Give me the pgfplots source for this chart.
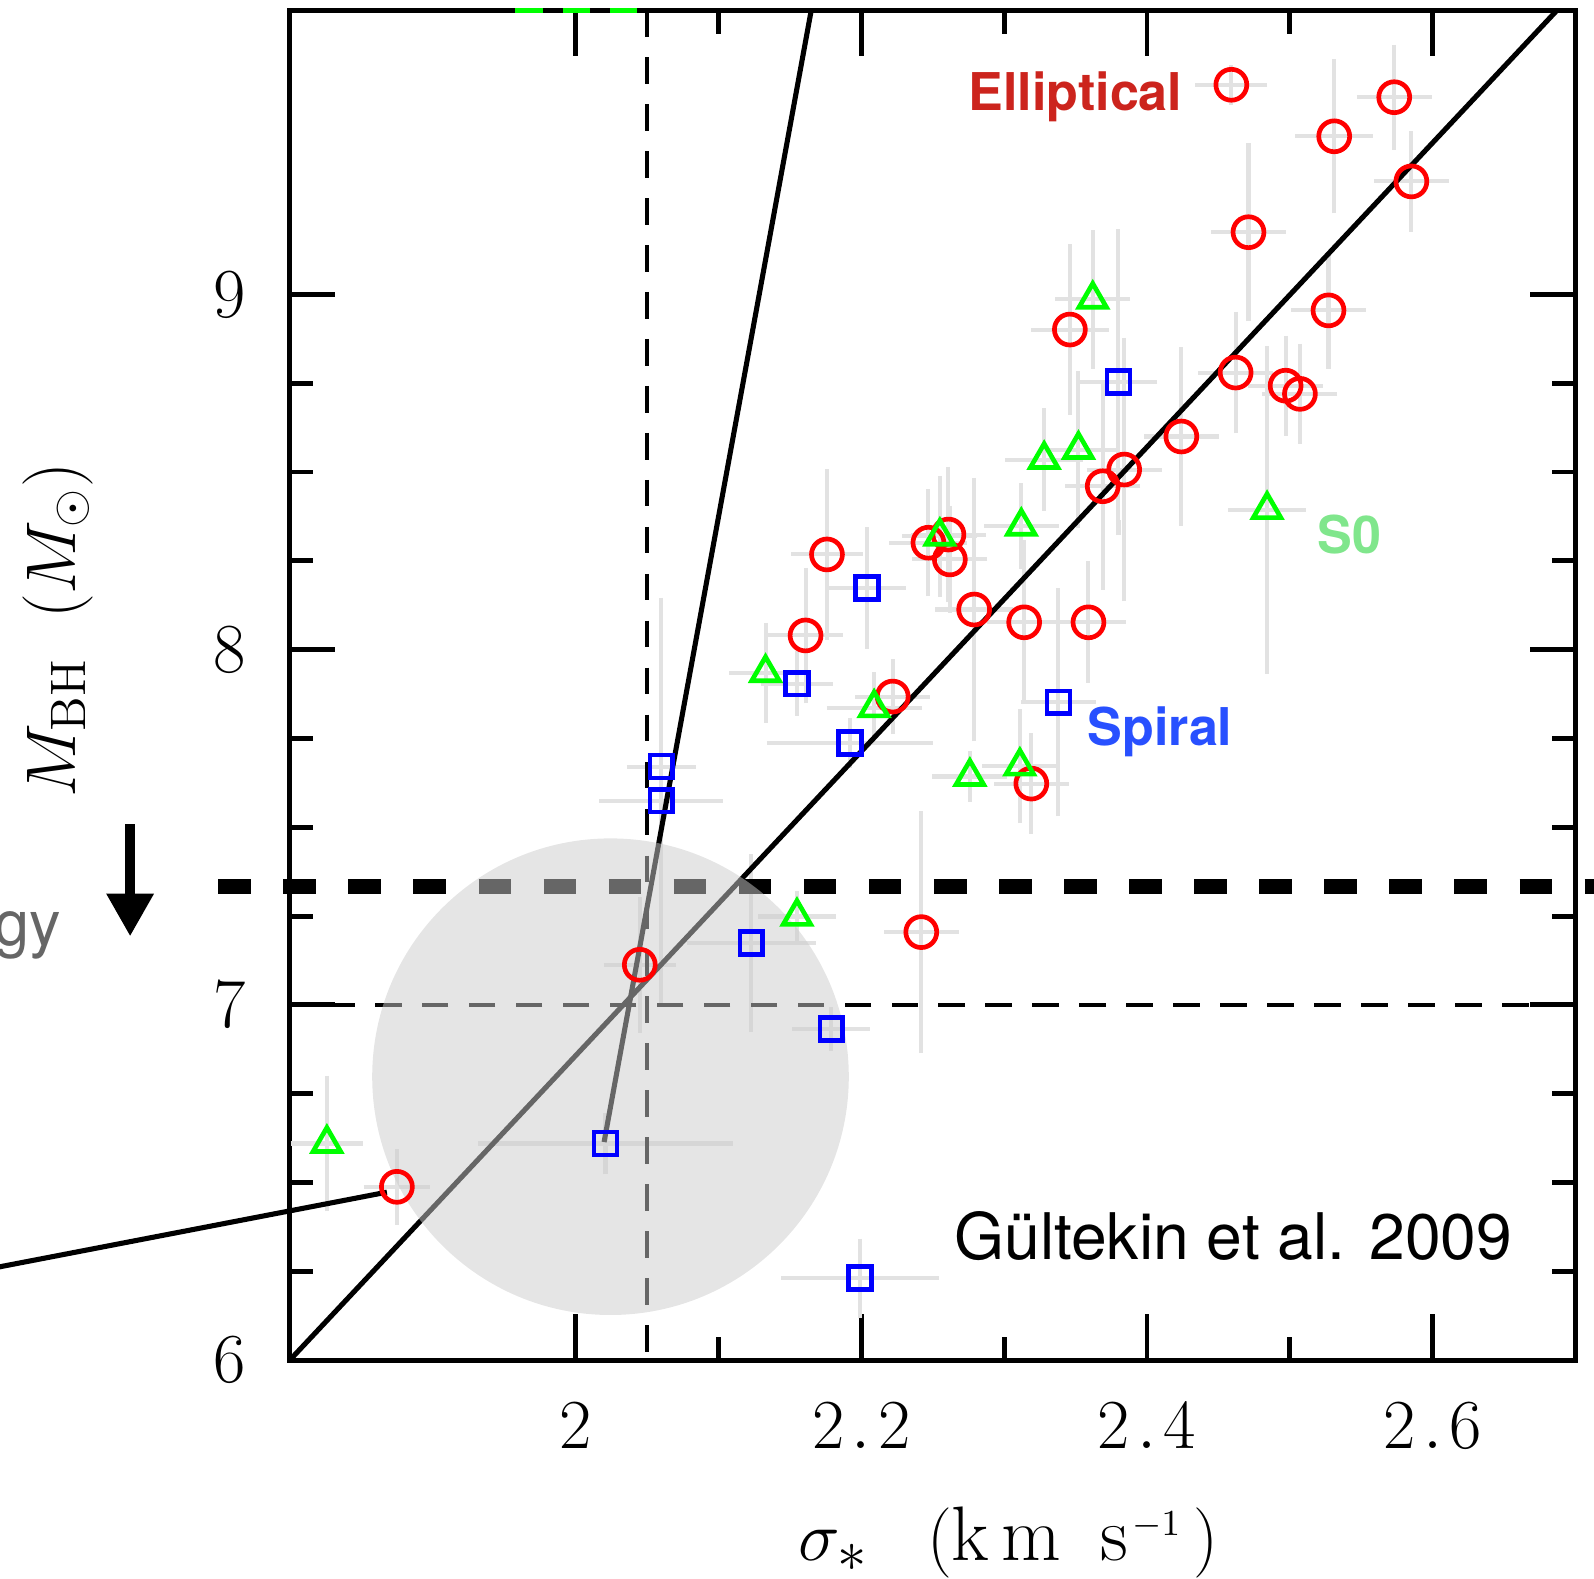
\documentclass[border=0pt]{standalone}
\usepackage{pgfplots}
\usepackage{pgfplotstable}
\pgfplotsset{compat=1.18}
\usepackage{fontspec}
\setsansfont{TeX Gyre Heros}
\usetikzlibrary{arrows.meta}

\definecolor{errc}{RGB}{226,226,226}
\definecolor{ellc}{RGB}{204,36,29}
\definecolor{s0c}{RGB}{128,230,140}
\definecolor{spic}{RGB}{40,80,255}

% x = log sigma, y = log M_BH, ex/ey = errors
\pgfplotstableread{
x y ex ey
2.459 9.590 0.020 0.035
2.573 9.555 0.021 0.127
2.531 9.445 0.022 0.196
2.585 9.318 0.021 0.120
2.471 9.175 0.021 0.230
2.527 8.955 0.021 0.144
2.346 8.901 0.022 0.220
2.462 8.780 0.021 0.150
2.497 8.743 0.021 0.120
2.507 8.720 0.021 0.120
2.424 8.600 0.021 0.230
2.384 8.507 0.021 0.350
2.369 8.460 0.021 0.270
2.176 8.268 0.020 0.220
2.247 8.301 0.022 0.130
2.261 8.324 0.021 0.170
2.262 8.254 0.021 0.130
2.279 8.113 0.022 0.350
2.314 8.077 0.021 0.210
2.359 8.077 0.021 0.150
2.161 8.040 0.021 0.170
2.222 7.868 0.021 0.085
2.319 7.623 0.021 0.120
2.242 7.205 0.021 0.320
2.045 7.113 0.020 0.170
1.875 6.488 0.018 0.085
}\ellip

\pgfplotstableread{
x y ex ey
2.362 8.986 0.021 0.174
2.328 8.535 0.022 0.123
2.352 8.563 0.021 0.200
2.312 8.347 0.021 0.100
2.255 8.319 0.021 0.150
2.484 8.394 0.022 0.440
2.133 7.935 0.020 0.120
2.209 7.836 0.028 0.080
2.276 7.643 0.021 0.050
2.311 7.672 0.021 0.140
2.155 7.249 0.022 0.050
1.826 6.610 0.020 0.170
}\sozero

\pgfplotstableread{
x y ex ey
2.380 8.753 0.022 0.410
2.204 8.174 0.022 0.150
2.155 7.904 0.020 0.070
2.192 7.737 0.053 0.050
2.338 7.852 0.021 0.300
2.060 7.671 0.019 0.060
2.060 7.575 0.038 0.550
2.123 7.174 0.040 0.230
2.179 6.932 0.022 0.040
2.021 6.610 0.084 0.066
2.199 6.231 0.050 0.090
}\spiral

\begin{document}
\begin{tikzpicture}
\begin{axis}[
  scale only axis,
  width=316.25pt, height=332pt,
  xmin=1.8, xmax=2.7, ymin=6, ymax=9.8,
  xtick={2,2.2,2.4,2.6},
  xticklabels={$2$, $2\kern1.8pt.\kern1.8pt2$, $2\kern1.8pt.\kern1.8pt4$, $2\kern1.8pt.\kern1.8pt6$},
  minor x tick num=1,
  ytick={6,7,8,9},
  minor y tick num=3,
  xtick pos=both, ytick pos=both,
  tick align=inside,
  major tick length=11.25pt,
  minor tick length=5.75pt,
  axis line style={line width=1.2pt},
  every tick/.style={black, line width=1.2pt},
  ticklabel style={font=\fontsize{17}{20}\selectfont},
  xticklabel style={yshift=-7pt},
  yticklabel style={xshift=-7.4pt},
  clip=false,
]
\coordinate (BL) at (rel axis cs:0,0);
\coordinate (TR) at (rel axis cs:1,1);

% error bars
\addplot[draw=none, mark=none, forget plot,
  error bars/.cd, x dir=both, y dir=both, x explicit, y explicit,
  error bar style={draw=errc, line width=1pt},
  error mark options={draw=errc, line width=1pt, mark size=1.85pt}]
  table[x=x, y=y, x error=ex, y error=ey] {\ellip};
\addplot[draw=none, mark=none, forget plot,
  error bars/.cd, x dir=both, y dir=both, x explicit, y explicit,
  error bar style={draw=errc, line width=1pt},
  error mark options={draw=errc, line width=1pt, mark size=1.85pt}]
  table[x=x, y=y, x error=ex, y error=ey] {\sozero};
\addplot[draw=none, mark=none, forget plot,
  error bars/.cd, x dir=both, y dir=both, x explicit, y explicit,
  error bar style={draw=errc, line width=1pt},
  error mark options={draw=errc, line width=1pt, mark size=1.85pt}]
  table[x=x, y=y, x error=ex, y error=ey] {\spiral};

% points
\addplot[red, only marks, mark=o, mark size=3.8pt, mark options={line width=1.15pt, fill=none}] table[x=x, y=y] {\ellip};
\addplot[green, only marks, mark=triangle, mark size=3.9pt, mark options={line width=1.15pt, fill=none}] table[x=x, y=y] {\sozero};
\addplot[blue, only marks, mark=square, mark size=2.8pt, mark options={line width=1.15pt, fill=none}] table[x=x, y=y] {\spiral};

% thin dashed reference lines
\draw[black, line width=1pt, dash pattern=on 6.55pt off 5pt] (axis cs:2.05,9.8) -- (axis cs:2.05,6);
\draw[black, line width=1pt, dash pattern=on 6.55pt off 5pt] (axis cs:2.7,7) -- (axis cs:1.8,7);

% fits
\addplot[black, line width=1.25pt] coordinates {(1.8,6.0) (2.687,9.8)};
\addplot[black, line width=1.25pt] coordinates {(2.020,6.614) (2.165,9.8)};

% thick dashed limit
\draw[black, line width=3.7pt, dash pattern=on 8pt off 8pt] (axis cs:1.750,7.333) -- (axis cs:2.72,7.333);

% top edge bits
\draw[green, line width=1.2pt] (axis cs:1.958,9.8) -- (axis cs:1.977,9.8);
\draw[green, line width=1.2pt] (axis cs:1.991,9.8) -- (axis cs:2.010,9.8);
\draw[green, line width=1.2pt] (axis cs:2.024,9.8) -- (axis cs:2.043,9.8);

% shaded region
\fill[black!20, opacity=0.5] (axis cs:2.0245,6.798) circle[radius=58.6pt];

% connector
\draw[black, line width=1.25pt] (axis cs:1.868,6.473) -- (axis cs:1.583,6.252);

% arrow and side text
\draw[black, line width=2.5pt, -{Triangle[length=10.5pt, width=11pt]}] (axis cs:1.6883,7.508) -- (axis cs:1.6883,7.193);
\node[anchor=base east, inner sep=0pt, text=black!60, font=\sffamily\fontsize{15.5}{18}\selectfont] at (axis cs:1.6406,7.166) {gy};

% labels
\node[anchor=base, rotate=90, inner sep=0pt, font=\fontsize{17.5}{20}\selectfont] at (axis cs:1.650,8.055) {$M_{\mathrm{BH}}\;\;(M_\odot)$};
\node[anchor=base, inner sep=0pt, font=\fontsize{19}{22}\selectfont] at (axis cs:2.303,5.436) {$\sigma_*\;\;\;(\mathrm{k\kern3pt m}\;\;\mathrm{s}\kern1pt^{\scriptscriptstyle -1}\,)$};

% annotations
\node[anchor=base west, inner sep=0pt, text=ellc, font=\sffamily\bfseries\fontsize{12.8}{15}\selectfont] at (axis cs:2.2745,9.519) {Elliptical};
\node[anchor=base west, inner sep=0pt, text=s0c, font=\sffamily\bfseries\fontsize{12.8}{15}\selectfont] at (axis cs:2.519,8.272) {S0};
\node[anchor=base west, inner sep=0pt, text=spic, font=\sffamily\bfseries\fontsize{12.8}{15}\selectfont] at (axis cs:2.3578,7.730) {Spiral};
\node[anchor=base west, inner sep=0pt, font=\sffamily\fontsize{15.8}{19}\selectfont] at (axis cs:2.2646,6.283) {Gültekin et al. 2009};
\end{axis}
\pgfresetboundingbox
\path[use as bounding box] ([shift={(-71.25pt,-53.75pt)}]BL) rectangle ([shift={(4.5pt,2.5pt)}]TR);
\end{tikzpicture}
\end{document}
